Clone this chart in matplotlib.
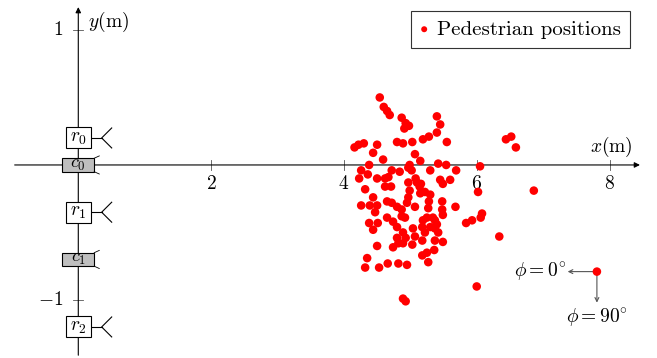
import matplotlib
matplotlib.use("Agg")
import matplotlib.pyplot as plt
from matplotlib.patches import Rectangle

plt.rcParams['mathtext.fontset'] = 'cm'
plt.rcParams['font.family'] = 'serif'
plt.rcParams['font.serif'] = ['cmr10', 'DejaVu Serif']
plt.rcParams['axes.unicode_minus'] = False

# pedestrian positions (m)
ped_x = [4.54, 4.60, 4.65, 4.69, 4.87, 4.93, 4.98, 4.91, 5.40, 5.45, 5.40, 5.55, 5.19, 5.28,
         4.80, 4.89, 5.03, 4.16, 4.22, 4.30, 4.50, 4.44, 4.59, 5.07, 5.15, 4.38, 4.99, 5.42,
         5.54, 6.05, 6.44, 6.52, 6.59,
         4.26, 4.36, 4.23, 4.32, 4.50, 4.62, 4.67, 4.72, 4.62, 4.71, 4.84, 4.97, 5.02, 5.08,
         4.97, 4.99, 5.10, 5.16, 5.14, 5.22, 5.30, 5.30, 5.45, 5.49, 5.60, 5.69, 6.02, 6.86,
         4.26, 4.39, 4.44, 4.50, 4.47, 4.65, 4.72, 4.80, 4.87, 4.97, 4.95, 5.07, 5.15, 5.28,
         5.27, 5.48, 5.48, 4.92, 4.87, 4.38, 4.44, 4.51, 4.65, 4.74, 4.80, 4.89, 5.04, 5.07,
         5.18, 5.22, 5.30, 5.37, 5.40, 5.42, 5.25, 5.34, 5.37, 5.19, 4.80, 4.93, 4.82, 4.89,
         4.74, 5.03, 5.18, 5.37, 5.49, 4.50, 5.36, 4.35, 4.32, 4.53, 4.66, 4.82, 4.95, 5.18,
         5.25, 5.27, 4.89, 4.93, 5.68, 5.49, 5.84, 5.93, 6.08, 6.06, 6.34, 6.00]
ped_y = [0.50, 0.43, 0.40, 0.37, 0.35, 0.31, 0.29, 0.27, 0.36, 0.30, 0.24, 0.17, 0.19, 0.21,
         0.17, 0.16, 0.17, 0.13, 0.15, 0.16, 0.15, 0.09, 0.04, 0.08, 0.03, 0.00, 0.00, 0.01,
         0.00, -0.01, 0.19, 0.21, 0.13,
         -0.04, -0.07, -0.10, -0.18, -0.10, -0.10, -0.09, -0.04, -0.16, -0.16, -0.05, -0.02, -0.04, -0.10,
         -0.13, -0.19, -0.13, -0.14, -0.16, -0.20, -0.04, -0.22, -0.11, -0.14, -0.11, -0.04, -0.20, -0.19,
         -0.30, -0.30, -0.24, -0.30, -0.35, -0.27, -0.28, -0.31, -0.33, -0.24, -0.28, -0.31, -0.21, -0.27,
         -0.32, -0.27, -0.33, -0.39, -0.38, -0.43, -0.48, -0.43, -0.39, -0.42, -0.46, -0.50, -0.47, -0.53,
         -0.46, -0.50, -0.46, -0.47, -0.44, -0.50, -0.39, -0.39, -0.41, -0.41, -0.54, -0.54, -0.58, -0.58,
         -0.61, -0.59, -0.56, -0.56, -0.57, -0.60, -0.63, -0.69, -0.76, -0.76, -0.73, -0.73, -0.74, -0.67,
         -0.65, -0.72, -0.99, -1.01, -0.31, -0.37, -0.43, -0.41, -0.36, -0.39, -0.53, -0.90]

# sensors on the y axis
radar_names = ['r_0', 'r_1', 'r_2']
radar_y = [0.20, -0.35, -1.20]
camera_names = ['c_0', 'c_1']
camera_y = [0.0, -0.70]

x_ticks = [2, 4, 6, 8]
y_ticks = [1, -1]

# orientation legend point
phi_x, phi_y = 7.81, -0.79

FS = 14

fig = plt.figure(figsize=(6.57, 3.58), dpi=100)
ax = fig.add_axes([0, 0, 1, 1])
ax.set_xlim(-1.179, 8.715)
ax.set_ylim(-1.430, 1.222)
ax.axis('off')

ak = dict(arrowstyle='-|>', color='black', lw=0.8, mutation_scale=8)
ax.annotate('', xy=(8.50, 0), xytext=(-1.0, 0), arrowprops=ak)
ax.annotate('', xy=(0, 1.19), xytext=(0, -1.43), arrowprops=ak)

for t in x_ticks:
    ax.plot([t, t], [-0.037, 0.037], color='#555555', lw=0.6)
    ax.text(t, -0.14, f'${t}$', ha='center', va='center', fontsize=FS)
for t in y_ticks:
    ax.plot([-0.08, 0.07], [t, t], color='#555555', lw=0.6)
    lab = f'${t}$' if t > 0 else f'$-{abs(t)}$'
    ax.text(-0.22, t, lab, ha='right', va='center', fontsize=FS)

ax.text(8.03, 0.13, r'$x(\mathrm{m})$', ha='center', va='center', fontsize=FS)
ax.text(0.14, 1.06, r'$y(\mathrm{m})$', ha='left', va='center', fontsize=FS)

# radar boxes with field of view marks
rw, rh = 0.376, 0.156
for name, yc in zip(radar_names, radar_y):
    ax.add_patch(Rectangle((-rw / 2, yc - rh / 2), rw, rh, facecolor='white',
                           edgecolor='black', lw=0.8, zorder=3))
    ax.text(0, yc, f'${name}$', ha='center', va='center', fontsize=FS, zorder=4)
    ax.plot([rw / 2, 0.352], [yc, yc], color='black', lw=0.8)
    ax.plot([0.503, 0.352, 0.503], [yc + 0.074, yc, yc - 0.074], color='black', lw=0.8)

# camera boxes
cw, ch = 0.48, 0.10
for name, yc in zip(camera_names, camera_y):
    ax.add_patch(Rectangle((-cw / 2, yc - ch / 2), cw, ch, facecolor='#bfbfbf',
                           edgecolor='black', lw=0.8, zorder=3))
    ax.text(0, yc, f'${name}$', ha='center', va='center', fontsize=FS - 1, zorder=4)
    ax.plot([cw / 2, 0.316], [yc + ch / 2, yc + 0.067], color='black', lw=0.6, zorder=3)
    ax.plot([cw / 2, 0.316], [yc - ch / 2, yc - 0.067], color='black', lw=0.6, zorder=3)

ax.scatter(ped_x, ped_y, s=38, color='red', edgecolors='none', zorder=5,
           label='Pedestrian positions')

# orientation convention
ax.scatter([phi_x], [phi_y], s=38, color='red', edgecolors='none', zorder=5)
pk = dict(arrowstyle='->', color='#555555', lw=0.8, mutation_scale=7, shrinkA=0, shrinkB=0)
ax.annotate('', xy=(phi_x - 0.44, phi_y), xytext=(phi_x, phi_y), arrowprops=pk)
ax.annotate('', xy=(phi_x, phi_y - 0.23), xytext=(phi_x, phi_y), arrowprops=pk)
ax.text(phi_x - 0.46, phi_y, r'$\phi=0^{\circ}$', ha='right', va='center', fontsize=FS)
ax.text(phi_x, phi_y - 0.34, r'$\phi=90^{\circ}$', ha='center', va='center', fontsize=FS)

leg = ax.legend(loc='upper right', bbox_to_anchor=(0.959, 0.970), borderaxespad=0,
                fancybox=False, edgecolor='#333333', framealpha=1, fontsize=15,
                handlelength=0.4, handletextpad=0.4, borderpad=0.45, markerscale=0.7)
leg.get_frame().set_linewidth(0.8)

fig.savefig('out.png', dpi=100)
